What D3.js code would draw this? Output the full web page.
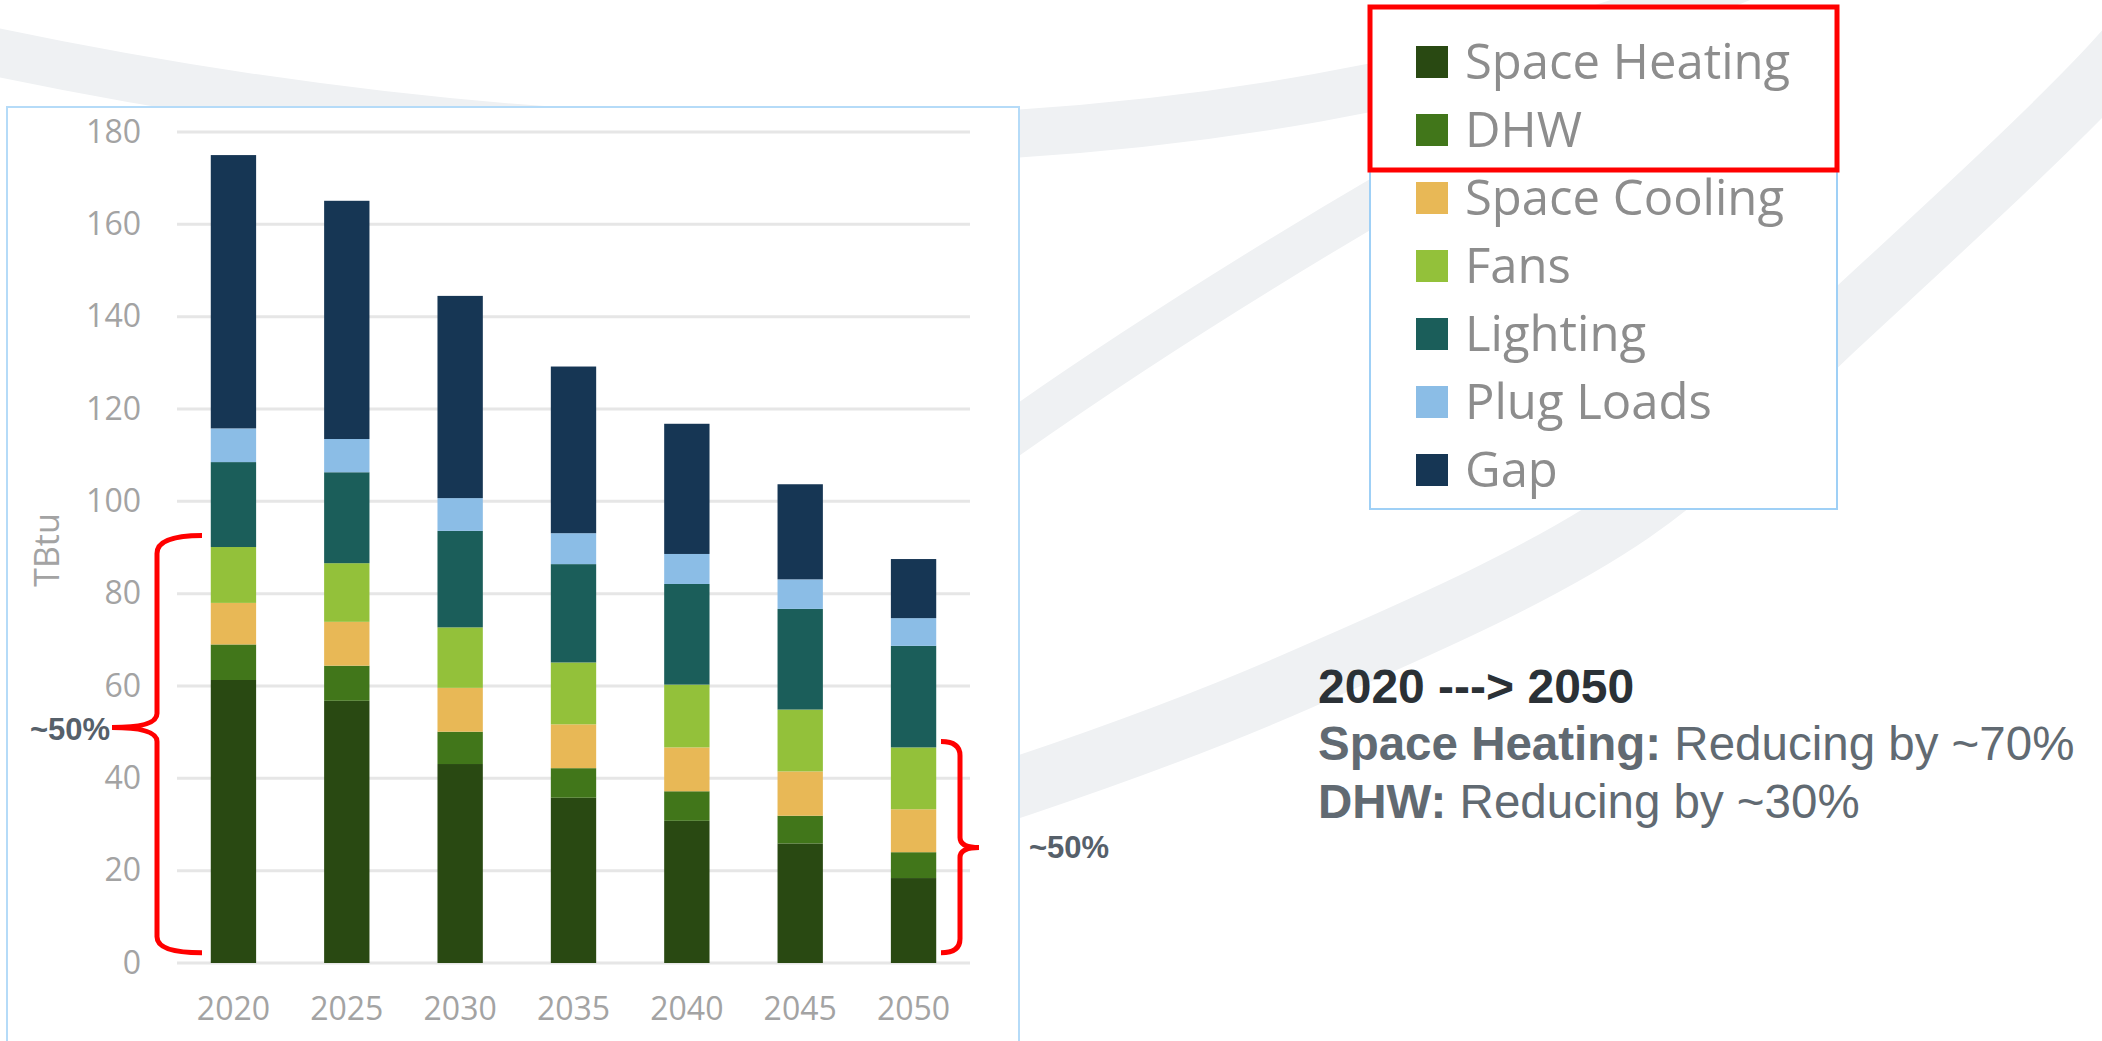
<!DOCTYPE html>
<html>
<head>
<meta charset="utf-8">
<script src="https://cdn.jsdelivr.net/npm/d3@7"></script>
<style>
  body { margin: 0; background: #fff; }
  svg { display: block; }
</style>
</head>
<body>
<svg id="chart" width="2102" height="1041"></svg>
<script>
// data (TBtu)
const years = ["2020", "2025", "2030", "2035", "2040", "2045", "2050"];
const spaceHeating = [61.3, 56.8, 43.1, 35.8, 30.8, 25.9, 18.4];
const dhw          = [7.7, 7.6, 7.0, 6.4, 6.4, 6.0, 5.6];
const spaceCooling = [9.0, 9.5, 9.5, 9.5, 9.5, 9.6, 9.3];
const fans         = [12.1, 12.7, 13.1, 13.4, 13.6, 13.4, 13.4];
const lighting     = [18.4, 19.7, 20.9, 21.3, 21.8, 21.8, 22.0];
const plugLoads    = [7.3, 7.2, 7.1, 6.7, 6.5, 6.4, 6.0];
const gap          = [59.2, 51.6, 43.8, 36.1, 28.2, 20.6, 12.8];

const seriesNames = ["Space Heating", "DHW", "Space Cooling", "Fans", "Lighting", "Plug Loads", "Gap"];
const seriesColors = ["#294912", "#41761a", "#e8b856", "#93c13a", "#1b5e5a", "#8bbde6", "#163654"];
const yTicks = [0, 20, 40, 60, 80, 100, 120, 140, 160, 180];

// build rows for d3.stack
const allSeries = [spaceHeating, dhw, spaceCooling, fans, lighting, plugLoads, gap];
const rows = years.map((yr, i) => {
    const row = { year: yr };
    seriesNames.forEach((name, k) => { row[name] = allSeries[k][i]; });
    return row;
});

const svg = d3.select("#chart");

// faint background swooshes (decoration only)
const swoosh = d3.line().curve(d3.curveCatmullRom);
const bg = svg.append("g").attr("fill", "none").attr("stroke", "#eff1f3");
bg.append("path").attr("d", "M-60,40 C500,165 1200,205 1760,-30").attr("stroke-width", 48);
bg.append("path")
    .attr("d", swoosh([[2200, -40], [2102, 75], [1837, 327], [1632, 513], [1300, 680], [1021, 786], [700, 880]]))
    .attr("stroke-width", 60);
bg.append("path").attr("d", "M820,580 C1000,430 1250,270 1500,130").attr("stroke-width", 44);

// chart frame
svg.append("rect")
    .attr("x", 7).attr("y", 107).attr("width", 1012).attr("height", 960)
    .attr("fill", "#fff").attr("stroke", "#b5dbf8").attr("stroke-width", 2);

const x = d3.scaleBand()
    .domain(years)
    .range([177, 970])
    .paddingInner(0.6)
    .paddingOuter(0.298);

const y = d3.scaleLinear()
    .domain([0, 180])
    .range([963, 132]);

// gridlines
svg.append("g")
    .selectAll("line")
    .data(yTicks)
    .join("line")
    .attr("x1", 177).attr("x2", 970)
    .attr("y1", d => y(d)).attr("y2", d => y(d))
    .attr("stroke", "#e6e6e6")
    .attr("stroke-width", 3);

// y axis labels
const yAxis = svg.append("g")
    .attr("transform", "translate(141,0)")
    .call(d3.axisLeft(y).tickValues(yTicks).tickSize(0).tickPadding(0));
yAxis.select(".domain").remove();
yAxis.selectAll("text")
    .attr("font-family", "'Open Sans', sans-serif")
    .attr("font-size", 32)
    .attr("fill", "#a3a3a3");

// x axis labels
const xAxis = svg.append("g")
    .attr("transform", "translate(0,963)")
    .call(d3.axisBottom(x).tickSize(0).tickPadding(34));
xAxis.select(".domain").remove();
xAxis.selectAll("text")
    .attr("font-family", "'Open Sans', sans-serif")
    .attr("font-size", 32)
    .attr("fill", "#a3a3a3");

// y title
svg.append("text")
    .attr("transform", "translate(59,550) rotate(-90)")
    .attr("text-anchor", "middle")
    .attr("font-family", "'Open Sans', sans-serif")
    .attr("font-size", 34)
    .attr("fill", "#a3a3a3")
    .text("TBtu");

// stacked bars
const stacked = d3.stack().keys(seriesNames)(rows);
const color = d3.scaleOrdinal().domain(seriesNames).range(seriesColors);

svg.append("g")
    .selectAll("g")
    .data(stacked)
    .join("g")
    .attr("fill", d => color(d.key))
    .selectAll("rect")
    .data(d => d)
    .join("rect")
    .attr("x", d => x(d.data.year))
    .attr("width", x.bandwidth())
    .attr("y", d => y(d[1]))
    .attr("height", d => y(d[0]) - y(d[1]));

// red brackets
const red = "#ff0000";
const lx = 157, lTop = y(92.6), lMid = y(51.0), lBot = y(2.2);
svg.append("path")
    .attr("d", `M202,${lTop} Q${lx},${lTop} ${lx},${lTop + 18} L${lx},${lMid - 14} Q${lx},${lMid} 112,${lMid} Q${lx},${lMid} ${lx},${lMid + 14} L${lx},${lBot - 16} Q${lx},${lBot} 202,${lBot}`)
    .attr("fill", "none").attr("stroke", red).attr("stroke-width", 5);

const rx = 960, rTop = y(48.0), rMid = y(25.0), rBot = y(2.2);
svg.append("path")
    .attr("d", `M941,${rTop} Q${rx},${rTop} ${rx},${rTop + 14} L${rx},${rMid - 10} Q${rx},${rMid} 979,${rMid} Q${rx},${rMid} ${rx},${rMid + 10} L${rx},${rBot - 14} Q${rx},${rBot} 941,${rBot}`)
    .attr("fill", "none").attr("stroke", red).attr("stroke-width", 5);

const pctStyle = sel => sel
    .attr("font-family", "'Liberation Sans', Arial, sans-serif")
    .attr("font-weight", "bold")
    .attr("font-size", 31)
    .attr("fill", "#56606a");
svg.append("text").attr("x", 30).attr("y", 740).text("~50%").call(pctStyle);
svg.append("text").attr("x", 1029).attr("y", 858).text("~50%").call(pctStyle);

// legend
svg.append("rect")
    .attr("x", 1370).attr("y", 7).attr("width", 467).attr("height", 502)
    .attr("fill", "#fff").attr("stroke", "#9fd0f6").attr("stroke-width", 2);

const legend = svg.append("g")
    .selectAll("g")
    .data(seriesNames)
    .join("g")
    .attr("transform", (d, i) => `translate(1416,${62 + i * 68})`);

legend.append("rect")
    .attr("x", 0).attr("y", -16)
    .attr("width", 32).attr("height", 32)
    .attr("fill", d => color(d));

legend.append("text")
    .attr("x", 49).attr("y", 17)
    .attr("font-family", "'Open Sans', sans-serif")
    .attr("font-size", 49)
    .attr("fill", "#8d8d8d")
    .text(d => d);

svg.append("rect")
    .attr("x", 1370).attr("y", 7).attr("width", 467).attr("height", 163)
    .attr("fill", "none").attr("stroke", red).attr("stroke-width", 5);

// summary text
const note = svg.append("g")
    .attr("font-family", "'Liberation Sans', Arial, sans-serif")
    .attr("font-size", 47.5);

note.append("text")
    .attr("x", 1318).attr("y", 703)
    .attr("font-weight", "bold")
    .attr("font-size", 48)
    .attr("fill", "#2b3136")
    .text("2020 ---> 2050");

const line2 = note.append("text").attr("x", 1318).attr("y", 760).attr("fill", "#616a72");
line2.append("tspan").attr("font-weight", "bold").text("Space Heating:");
line2.append("tspan").text(" Reducing by ~70%");

const line3 = note.append("text").attr("x", 1318).attr("y", 818).attr("fill", "#616a72");
line3.append("tspan").attr("font-weight", "bold").text("DHW:");
line3.append("tspan").text(" Reducing by ~30%");
</script>
</body>
</html>
